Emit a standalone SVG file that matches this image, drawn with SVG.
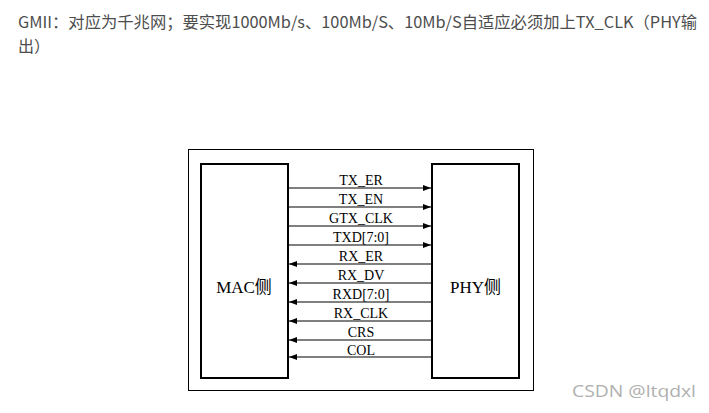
<svg xmlns="http://www.w3.org/2000/svg" width="709" height="413" viewBox="0 0 709 413">
<style>
.hdr{font-family:"Noto Sans CJK SC","Noto Sans",sans-serif;font-size:16px;fill:#4d4d4d}
.box{fill:#fff;stroke:#000;stroke-width:2}
.frame{fill:#fff;stroke:#000;stroke-width:1}
.sig{font-family:"Liberation Serif","Noto Sans CJK SC",serif;font-size:14px;fill:#000;text-anchor:middle}
.big{font-family:"Liberation Serif","Noto Sans CJK SC",serif;font-size:17px;fill:#000;text-anchor:middle}
.ln{stroke:#000;stroke-width:1.2;fill:none}
.wm{font-family:"Open Sans","Noto Sans",sans-serif;font-size:16px;fill:#b0b0b0}
</style>
<defs>
<marker id="ah" viewBox="0 0 8 6" refX="8" refY="3" markerWidth="8" markerHeight="6" markerUnits="userSpaceOnUse" orient="auto">
<path d="M0,0 L8,3 L0,6 Z" fill="#000"/>
</marker>
</defs>
<rect width="709" height="413" fill="#fff"/>
<text class="hdr" x="18" y="28" textLength="679" lengthAdjust="spacingAndGlyphs">GMII：对应为千兆网；要实现1000Mb/s、100Mb/S、10Mb/S自适应必须加上TX_CLK（PHY输</text>
<text class="hdr" x="18" y="52">出）</text>
<rect class="frame" x="188.5" y="149.5" width="345" height="241"/>
<g id="mac">
<rect class="box" x="201" y="164" width="87" height="214"/>
<text class="big" x="244" y="293">MAC侧</text>
</g>
<g id="phy">
<rect class="box" x="432" y="164" width="87" height="214"/>
<text class="big" x="475.5" y="293">PHY侧</text>
</g>
<g id="connectors">
<line class="ln" x1="289" y1="188" x2="431" y2="188" marker-end="url(#ah)"/>
<line class="ln" x1="289" y1="207" x2="431" y2="207" marker-end="url(#ah)"/>
<line class="ln" x1="289" y1="226" x2="431" y2="226" marker-end="url(#ah)"/>
<line class="ln" x1="289" y1="245" x2="431" y2="245" marker-end="url(#ah)"/>
<line class="ln" x1="431" y1="264" x2="289" y2="264" marker-end="url(#ah)"/>
<line class="ln" x1="431" y1="283" x2="289" y2="283" marker-end="url(#ah)"/>
<line class="ln" x1="431" y1="302" x2="289" y2="302" marker-end="url(#ah)"/>
<line class="ln" x1="431" y1="321" x2="289" y2="321" marker-end="url(#ah)"/>
<line class="ln" x1="431" y1="340" x2="289" y2="340" marker-end="url(#ah)"/>
<line class="ln" x1="431" y1="357" x2="289" y2="357" marker-end="url(#ah)"/>
<text class="sig" x="361" y="185">TX_ER</text>
<text class="sig" x="361" y="204">TX_EN</text>
<text class="sig" x="361" y="223">GTX_CLK</text>
<text class="sig" x="361" y="242">TXD[7:0]</text>
<text class="sig" x="361" y="261">RX_ER</text>
<text class="sig" x="361" y="280">RX_DV</text>
<text class="sig" x="361" y="299">RXD[7:0]</text>
<text class="sig" x="361" y="318">RX_CLK</text>
<text class="sig" x="361" y="337">CRS</text>
<text class="sig" x="361" y="355">COL</text>
</g>
<text class="wm" x="572" y="397" textLength="124" lengthAdjust="spacingAndGlyphs">CSDN @ltqdxl</text>
</svg>
